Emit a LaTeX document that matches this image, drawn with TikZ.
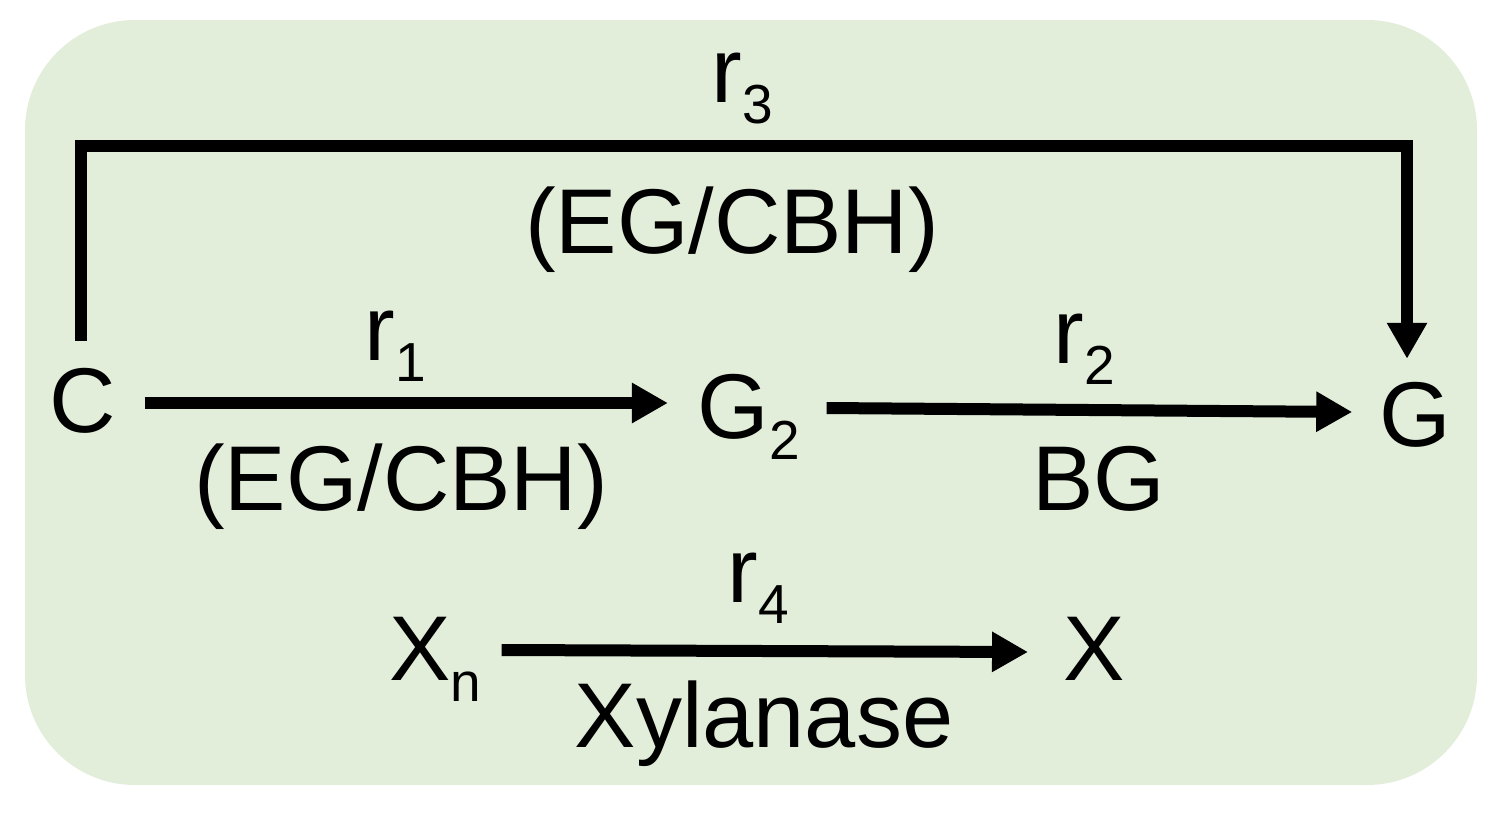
\documentclass[tikz,border=0pt]{standalone}
\usepackage{fontspec}
\setmainfont{Liberation Sans}
\usetikzlibrary{arrows.meta}
\definecolor{bgreen}{RGB}{226,237,218}
\newcommand\sbs[1]{\raisebox{-21pt}{\fontsize{55}{60}\selectfont #1}}
\begin{document}
\begin{tikzpicture}[x=1pt,y=-1pt,
  lbl/.style={anchor=base, inner sep=0pt, outer sep=0pt, font=\fontsize{92}{100}\selectfont},
  arr/.style={line width=12pt, -{Triangle[length=36pt,width=38pt]}}]
\useasboundingbox (0,0) rectangle (1498,819);
\fill[bgreen, rounded corners=110pt] (25,20) rectangle (1477,785);
% species
\node[lbl] (C)  at (82.5,432) {C};
\node[lbl] (G2) at (748.6,438) {G\sbs{2}};
\node[lbl] (G)  at (1415,446) {G};
\node[lbl] (Xn) at (435.6,680) {X\sbs{n}};
\node[lbl] (X)  at (1094,680) {X};
% labels
\node[lbl] (r1)  at (395,360) {r\sbs{1}};
\node[lbl] (e1)  at (401,510) {(EG/CBH)};
\node[lbl] (r2)  at (1084,363) {r\sbs{2}};
\node[lbl] (bg)  at (1099,510) {BG};
\node[lbl] (r3)  at (742,102) {r\sbs{3}};
\node[lbl] (e3)  at (732,253) {(EG/CBH)};
\node[lbl] (r4)  at (758,602) {r\sbs{4}};
\node[lbl] (xy)  at (764,747) {Xylanase};
% connectors
\draw[arr] ([xshift=29pt,yshift=29pt]C.base east) -- ([xshift=-29.6pt,yshift=35pt]G2.base west);
\draw[arr] ([xshift=27pt,yshift=30pt]G2.base east) -- ([xshift=-27pt,yshift=34pt]G.base west);
\draw[arr] ([xshift=20pt,yshift=30pt]Xn.base east) -- ([xshift=-35.3pt,yshift=28pt]X.base west);
\draw[arr] ([xshift=-1.5pt,yshift=27pt]C.north) -- ++(0,-195) -| ([xshift=-8pt,yshift=23pt]G.north);
\end{tikzpicture}
\end{document}
